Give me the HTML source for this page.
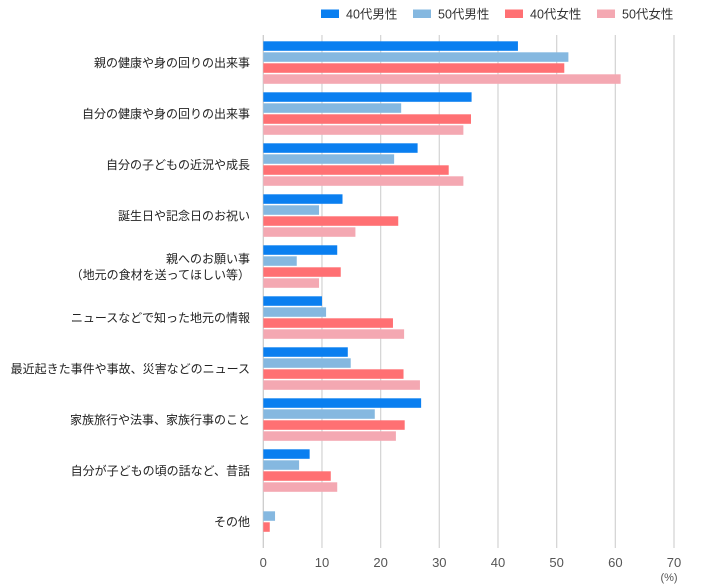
<!DOCTYPE html>
<html><head><meta charset="utf-8">
<style>
html,body{margin:0;padding:0;background:#fff;}
svg{display:block;font-family:"Liberation Sans","Noto Sans CJK JP",sans-serif;}
</style></head>
<body>
<svg id="chart" width="706" height="588" xmlns="http://www.w3.org/2000/svg"></svg>
<script>
const categories = ["親の健康や身の回りの出来事","自分の健康や身の回りの出来事","自分の子どもの近況や成長","誕生日や記念日のお祝い","親へのお願い事|（地元の食材を送ってほしい等）","ニュースなどで知った地元の情報","最近起きた事件や事故、災害などのニュース","家族旅行や法事、家族行事のこと","自分が子どもの頃の話など、昔話","その他"];
const seriesNames = ["40代男性","50代男性","40代女性","50代女性"];
const male40 = [43.4,35.5,26.3,13.5,12.6,10.0,14.4,26.9,7.9,0];
const male50 = [52.0,23.5,22.3,9.5,5.7,10.7,14.9,19.0,6.1,2.0];
const female40 = [51.3,35.4,31.6,23.0,13.2,22.1,23.9,24.1,11.5,1.1];
const female50 = [60.9,34.1,34.1,15.7,9.5,24.0,26.7,22.6,12.6,0];
const tickLabels = ["0","10","20","30","40","50","60","70"];
const tickValues = [0,10,20,30,40,50,60,70];

const colors = ["#0a7ff0","#85b8e0","#ff7073","#f4a8b2"];
const series = [male40,male50,female40,female50];
const NS="http://www.w3.org/2000/svg";
const svg=document.getElementById('chart');
const x0=263.3, xMax=70, xPx=674;
function xScale(v){return x0+(xPx-x0)*v/xMax;}
const groupTop=41.3, groupPitch=51, barPitch=11, barH=9.5;
function mk(t,a,parent){const e=document.createElementNS(NS,t);for(const k in a)e.setAttribute(k,a[k]);(parent||svg).appendChild(e);return e;}

// gridlines & ticks
tickValues.forEach((v,i)=>{
  const g=mk('line',{x1:xScale(v),x2:xScale(v),y1:35,y2:548,stroke:i===0?'#cccccc':'#d6d6d6','stroke-width':1.3});
  
  
  const t=mk('text',{x:xScale(v),y:567,'text-anchor':'middle','font-size':13,fill:'#555'});
  t.textContent=tickLabels[i];
  
  
});
const unit=mk('text',{x:669,y:581,'text-anchor':'middle','font-size':11,fill:'#555'});
unit.textContent='(%)';



// bars
categories.forEach((c,gi)=>{
  const top=groupTop+gi*groupPitch;
  series.forEach((s,si)=>{
    const v=s[gi];
    if(v<=0)return;
    const r=mk('rect',{x:x0,y:top+si*barPitch,width:xScale(v)-x0,height:barH,fill:colors[si]});
    
    
  });
  const cy=top+(3*barPitch+barH)/2;
  const lines=c.split('|');
  const t=mk('text',{x:250,y:0,'text-anchor':'end','font-size':12,fill:'#222'});
  
  
  lines.forEach((ln,li)=>{
    const ts=mk('tspan',{x:250,y:cy+4.5+(li-(lines.length-1)/2)*16},t);
    ts.textContent=ln;
  });
});

// legend
const lx=[321,413,505,597];
seriesNames.forEach((n,i)=>{
  const r=mk('rect',{x:lx[i],y:9.5,width:18,height:8.5,fill:colors[i]});
  
  
  const t=mk('text',{x:lx[i]+25,y:18.5,'font-size':12.5,fill:'#333'});
  t.textContent=n;
  
  
});
</script>
</body></html>
